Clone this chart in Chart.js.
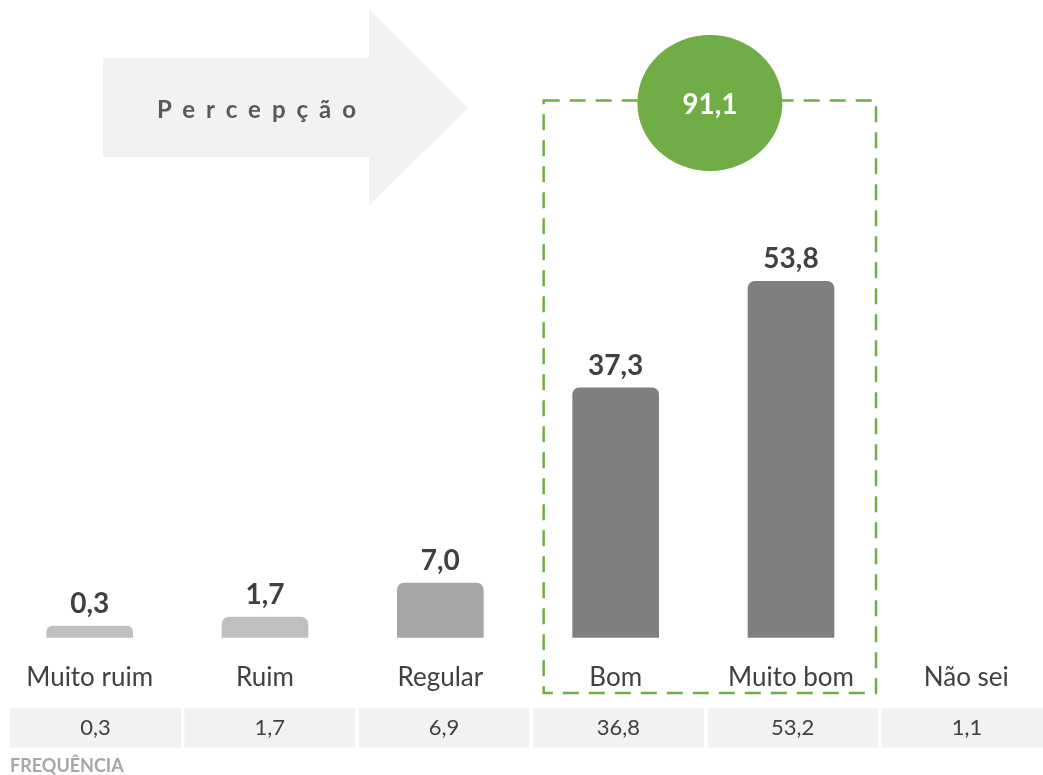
<!DOCTYPE html>
<html>
<head>
<meta charset="utf-8">
<script src="https://cdn.jsdelivr.net/npm/chart.js@4.4.1/dist/chart.umd.min.js"></script>
<style>
  html, body { margin: 0; padding: 0; background: #ffffff; overflow: hidden; }
  #wrap { position: absolute; left: 0; top: 0; width: 1060px; height: 775px; }
</style>
</head>
<body>
<div id="wrap"><canvas id="c"></canvas></div>
<script>
// ---- data ----
const categories = ['Muito ruim', 'Ruim', 'Regular', 'Bom', 'Muito bom', 'Não sei'];
const percepcao = [0.3, 1.7, 7.0, 37.3, 53.8, null];
const frequencia = [0.3, 1.7, 6.9, 36.8, 53.2, 1.1];
const totalPositivo = 91.1;
const arrowLabel = 'Percepção';
const rowLabel = 'FREQUÊNCIA';
const highlightFrom = 3, highlightTo = 4;

// ---- styles ----
const barColors = ['#bfbfbf', '#bfbfbf', '#a6a6a6', '#7f7f7f', '#7f7f7f', '#7f7f7f'];
const FONT = 'Lato, "Open Sans", sans-serif';
const fmt = v => v.toFixed(1).replace('.', ',');

const overlay = {
  id: 'overlay',
  afterDatasetsDraw(chart) {
    const ctx = chart.ctx;
    const meta = chart.getDatasetMeta(0);
    const xs = chart.scales.x;
    ctx.save();
    // value labels
    ctx.font = 'bold 28px ' + FONT;
    ctx.fillStyle = '#404040';
    ctx.textAlign = 'center';
    ctx.textBaseline = 'middle';
    meta.data.forEach((bar, i) => {
      const v = percepcao[i];
      if (v === null || v === undefined) return;
      ctx.fillText(fmt(v), bar.x, bar.y - 22);
    });

    // arrow
    ctx.fillStyle = '#f2f2f2';
    ctx.beginPath();
    ctx.moveTo(103, 58);
    ctx.lineTo(369, 58);
    ctx.lineTo(369, 9);
    ctx.lineTo(468, 108);
    ctx.lineTo(369, 206);
    ctx.lineTo(369, 157);
    ctx.lineTo(103, 157);
    ctx.closePath();
    ctx.fill();
    ctx.fillStyle = '#595959';
    ctx.font = 'bold 24px ' + FONT;
    ctx.textAlign = 'left';
    try { ctx.letterSpacing = '11px'; } catch (e) {}
    ctx.fillText(arrowLabel, 157, 110);
    try { ctx.letterSpacing = '0px'; } catch (e) {}

    // dashed highlight box
    const left = xs.getPixelForValue(highlightFrom) - 72;
    const right = xs.getPixelForValue(highlightTo) + 85;
    ctx.strokeStyle = '#70ad47';
    ctx.lineWidth = 2.5;
    ctx.setLineDash([16, 10]);
    ctx.strokeRect(left, 100.5, right - left, 592.5);
    ctx.setLineDash([]);

    // circle
    const cx = (left + right) / 2;
    ctx.fillStyle = '#70ad47';
    ctx.beginPath();
    ctx.ellipse(cx, 103, 72.5, 68, 0, 0, Math.PI * 2);
    ctx.fill();
    ctx.fillStyle = '#ffffff';
    ctx.font = 'bold 28px ' + FONT;
    ctx.textAlign = 'center';
    ctx.fillText(fmt(totalPositivo), cx, 105);

    // frequency row
    ctx.font = '22px ' + FONT;
    ctx.textBaseline = 'middle';
    frequencia.forEach((v, i) => {
      const bx = 10 + i * 174.3;
      ctx.fillStyle = '#f2f2f2';
      ctx.fillRect(bx, 708, 171, 39.5);
      ctx.fillStyle = '#404040';
      ctx.fillText(fmt(v), bx + 85.5, 728);
    });
    ctx.font = 'bold 18px ' + FONT;
    ctx.fillStyle = '#a6a6a6';
    ctx.textAlign = 'left';
    ctx.fillText(rowLabel, 10, 766);
    ctx.restore();
  }
};

new Chart(document.getElementById('c'), {
  type: 'bar',
  data: {
    labels: categories,
    datasets: [{
      data: percepcao,
      backgroundColor: barColors,
      base: -1.5,
      barThickness: 86,
      borderRadius: { topLeft: 7, topRight: 7, bottomLeft: 0, bottomRight: 0 },
      borderSkipped: false
    }]
  },
  options: {
    responsive: true,
    maintainAspectRatio: false,
    devicePixelRatio: 1,
    animation: false,
    layout: { padding: { left: 2, right: 6, top: 50, bottom: 58 } },
    plugins: { legend: { display: false }, tooltip: { enabled: false } },
    scales: {
      x: {
        grid: { display: false, drawTicks: false },
        border: { display: false },
        ticks: { color: '#404040', font: { family: FONT, size: 26 }, padding: 24, maxRotation: 0, autoSkip: false }
      },
      y: {
        display: false,
        min: -1.5,
        max: 89.7
      }
    }
  },
  plugins: [overlay]
});
</script>
</body>
</html>
